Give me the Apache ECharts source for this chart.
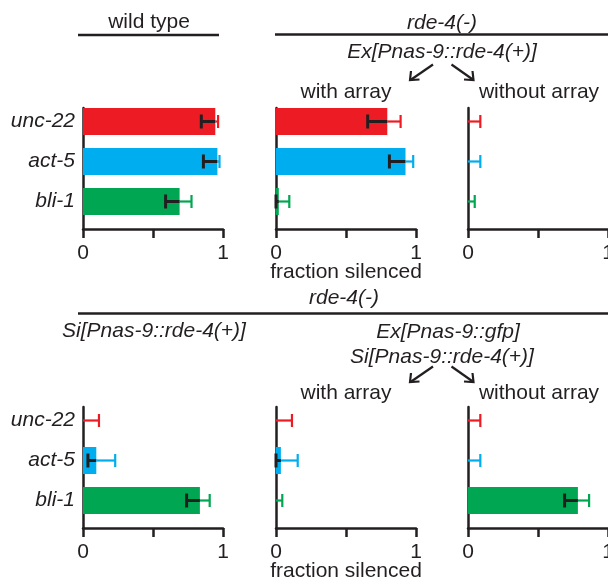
<!DOCTYPE html>
<html>
<head>
<meta charset="utf-8">
<script src="https://cdn.jsdelivr.net/npm/echarts@6/dist/echarts.min.js"></script>
<style>
  html, body { margin: 0; padding: 0; background: #fff; }
  #chart { width: 608px; height: 584px; }
</style>
</head>
<body>
<div id="chart"></div>
<script>
/* data: fraction silenced, order unc-22 / act-5 / bli-1 */
const genes = ['unc-22', 'act-5', 'bli-1'];
const tickLabels = { 0: '0', 1: '1' };

const wildType      = [0.945, 0.96, 0.69];
const wildTypeLow   = [0.845, 0.86, 0.59];
const wildTypeHigh  = [0.965, 0.975, 0.775];

const exWith        = [0.795, 0.925, 0.02];
const exWithLow     = [0.655, 0.81, 0.0];
const exWithHigh    = [0.89, 0.98, 0.095];

const exWithout     = [0, 0, 0];
const exWithoutLow  = [0, 0, 0];
const exWithoutHigh = [0.088, 0.088, 0.048];

const siOnly        = [0, 0.095, 0.835];
const siOnlyLow     = [0, 0.035, 0.74];
const siOnlyHigh    = [0.114, 0.23, 0.905];

const siExWith      = [0, 0.035, 0];
const siExWithLow   = [0, 0.0, 0];
const siExWithHigh  = [0.114, 0.155, 0.045];

const siExWithout     = [0, 0, 0.785];
const siExWithoutLow  = [0, 0, 0.69];
const siExWithoutHigh = [0.088, 0.088, 0.865];

/* styles */
const ink = '#231F20';
const geneColors = ['#ED1C24', '#00AEEF', '#00A651'];
const FONT = '"Liberation Sans", Arial, Helvetica, sans-serif';

const panels = [
  { v: wildType, lo: wildTypeLow, hi: wildTypeHigh, left: 83, top: 108, labels: true },
  { v: exWith, lo: exWithLow, hi: exWithHigh, left: 276, top: 108 },
  { v: exWithout, lo: exWithoutLow, hi: exWithoutHigh, left: 468, top: 108 },
  { v: siOnly, lo: siOnlyLow, hi: siOnlyHigh, left: 83, top: 407, labels: true },
  { v: siExWith, lo: siExWithLow, hi: siExWithHigh, left: 276, top: 407 },
  { v: siExWithout, lo: siExWithoutLow, hi: siExWithoutHigh, left: 468, top: 407 }
];

function renderErr(params, api) {
  const idx = api.value(0);
  const v = api.value(1), lo = api.value(2), hi = api.value(3);
  const pv = api.coord([v, idx]);
  const pl = api.coord([lo, idx]);
  const ph = api.coord([hi, idx]);
  const y = pv[1];
  const c = geneColors[idx];
  const h = 6.5;
  const kids = [];
  if (v - lo > 0.001) {
    kids.push({ type: 'line', shape: { x1: pl[0], y1: y, x2: pv[0], y2: y }, style: { stroke: ink, lineWidth: 3 } });
    kids.push({ type: 'line', shape: { x1: pl[0], y1: y - h - 0.5, x2: pl[0], y2: y + h + 0.5 }, style: { stroke: ink, lineWidth: 3 } });
  }
  kids.push({ type: 'line', shape: { x1: pv[0], y1: y, x2: ph[0], y2: y }, style: { stroke: c, lineWidth: 2.2 } });
  kids.push({ type: 'line', shape: { x1: ph[0], y1: y - h, x2: ph[0], y2: y + h }, style: { stroke: c, lineWidth: 2.2 } });
  return { type: 'group', children: kids };
}

const grid = [], xAxis = [], yAxis = [], series = [];
panels.forEach((p, i) => {
  const a = 2 * i, b = 2 * i + 1;
  // grid a: bars + category labels, grid b: axis frame
  grid.push({ left: p.left, width: 140, top: p.top - 6.5, height: 120, containLabel: false, outerBoundsMode: 'none' });
  grid.push({ left: p.left, width: 140, top: p.top, height: 121, containLabel: false, outerBoundsMode: 'none' });

  xAxis.push({ gridIndex: a, type: 'value', min: 0, max: 1, show: false });
  yAxis.push({
    gridIndex: a, type: 'category', data: genes, inverse: true,
    axisLine: { show: false }, axisTick: { show: false },
    axisLabel: { show: !!p.labels, margin: 8, color: ink, fontSize: 21, fontStyle: 'italic', fontFamily: FONT }
  });

  xAxis.push({
    gridIndex: b, type: 'value', min: 0, max: 1, interval: 0.5,
    splitLine: { show: false },
    axisLine: { show: true, onZero: false, lineStyle: { color: ink, width: 2.5 } },
    axisTick: { show: true, length: 9, lineStyle: { color: ink, width: 2.5 } },
    axisLabel: {
      margin: 14, color: ink, fontSize: 21, fontFamily: FONT,
      formatter: val => tickLabels[val] || ''
    }
  });
  yAxis.push({
    gridIndex: b, type: 'value', min: 0, max: 1,
    splitLine: { show: false }, axisTick: { show: false }, axisLabel: { show: false },
    axisLine: { show: true, onZero: false, lineStyle: { color: ink, width: 2.5 } }
  });

  series.push({
    type: 'bar', xAxisIndex: a, yAxisIndex: a, barWidth: 27, silent: true,
    data: p.v.map((v, k) => ({ value: v, itemStyle: { color: geneColors[k] } }))
  });
  series.push({
    type: 'custom', xAxisIndex: a, yAxisIndex: a, z: 5, silent: true, clip: false,
    renderItem: renderErr,
    encode: { x: [1, 2, 3], y: 0 },
    data: p.v.map((v, k) => [k, v, p.lo[k], p.hi[k]])
  });
});

/* annotations */
function txt(s, x, base, italic) {
  return {
    type: 'text', x: x, y: base - 5.3, silent: true,
    style: {
      text: s, fill: ink, textAlign: 'center', textVerticalAlign: 'middle',
      font: (italic ? 'italic ' : '') + '21px ' + FONT
    }
  };
}
function hline(x1, x2, y) {
  return { type: 'line', silent: true, shape: { x1: x1, y1: y, x2: x2, y2: y }, style: { stroke: ink, lineWidth: 2.5 } };
}
function arrows(dy) {
  const st = { stroke: ink, lineWidth: 2.2, fill: null };
  return [
    { type: 'line', silent: true, shape: { x1: 433, y1: 64.5 + dy, x2: 410.5, y2: 80 + dy }, style: st },
    { type: 'polyline', silent: true, shape: { points: [[411, 71 + dy], [410, 80 + dy], [419.5, 79.5 + dy]] }, style: st },
    { type: 'line', silent: true, shape: { x1: 451.5, y1: 64.5 + dy, x2: 473.5, y2: 80 + dy }, style: st },
    { type: 'polyline', silent: true, shape: { points: [[464, 79.5 + dy], [473.5, 80 + dy], [472.5, 71 + dy]] }, style: st }
  ];
}

const graphic = [
  txt('wild type', 149, 27.3, false),
  hline(78, 219, 35),
  txt('rde-4(-)', 442, 28.3, true),
  hline(275, 608, 34.5),
  txt('Ex[Pnas-9::rde-4(+)]', 442, 57, true),
  ...arrows(0),
  txt('with array', 346, 98, false),
  txt('without array', 539, 98, false),
  txt('fraction silenced', 346, 278, false),

  txt('rde-4(-)', 344, 303.5, true),
  hline(78, 608, 313.5),
  txt('Si[Pnas-9::rde-4(+)]', 154, 336, true),
  txt('Ex[Pnas-9::gfp]', 448, 337, true),
  txt('Si[Pnas-9::rde-4(+)]', 442, 362, true),
  ...arrows(302),
  txt('with array', 346, 399, false),
  txt('without array', 539, 399, false),
  txt('fraction silenced', 346, 577, false)
];

const chart = echarts.init(document.getElementById('chart'), null, { renderer: 'canvas' });
chart.setOption({
  animation: false,
  backgroundColor: '#fff',
  grid: grid,
  xAxis: xAxis,
  yAxis: yAxis,
  series: series,
  graphic: graphic
});
</script>
</body>
</html>
